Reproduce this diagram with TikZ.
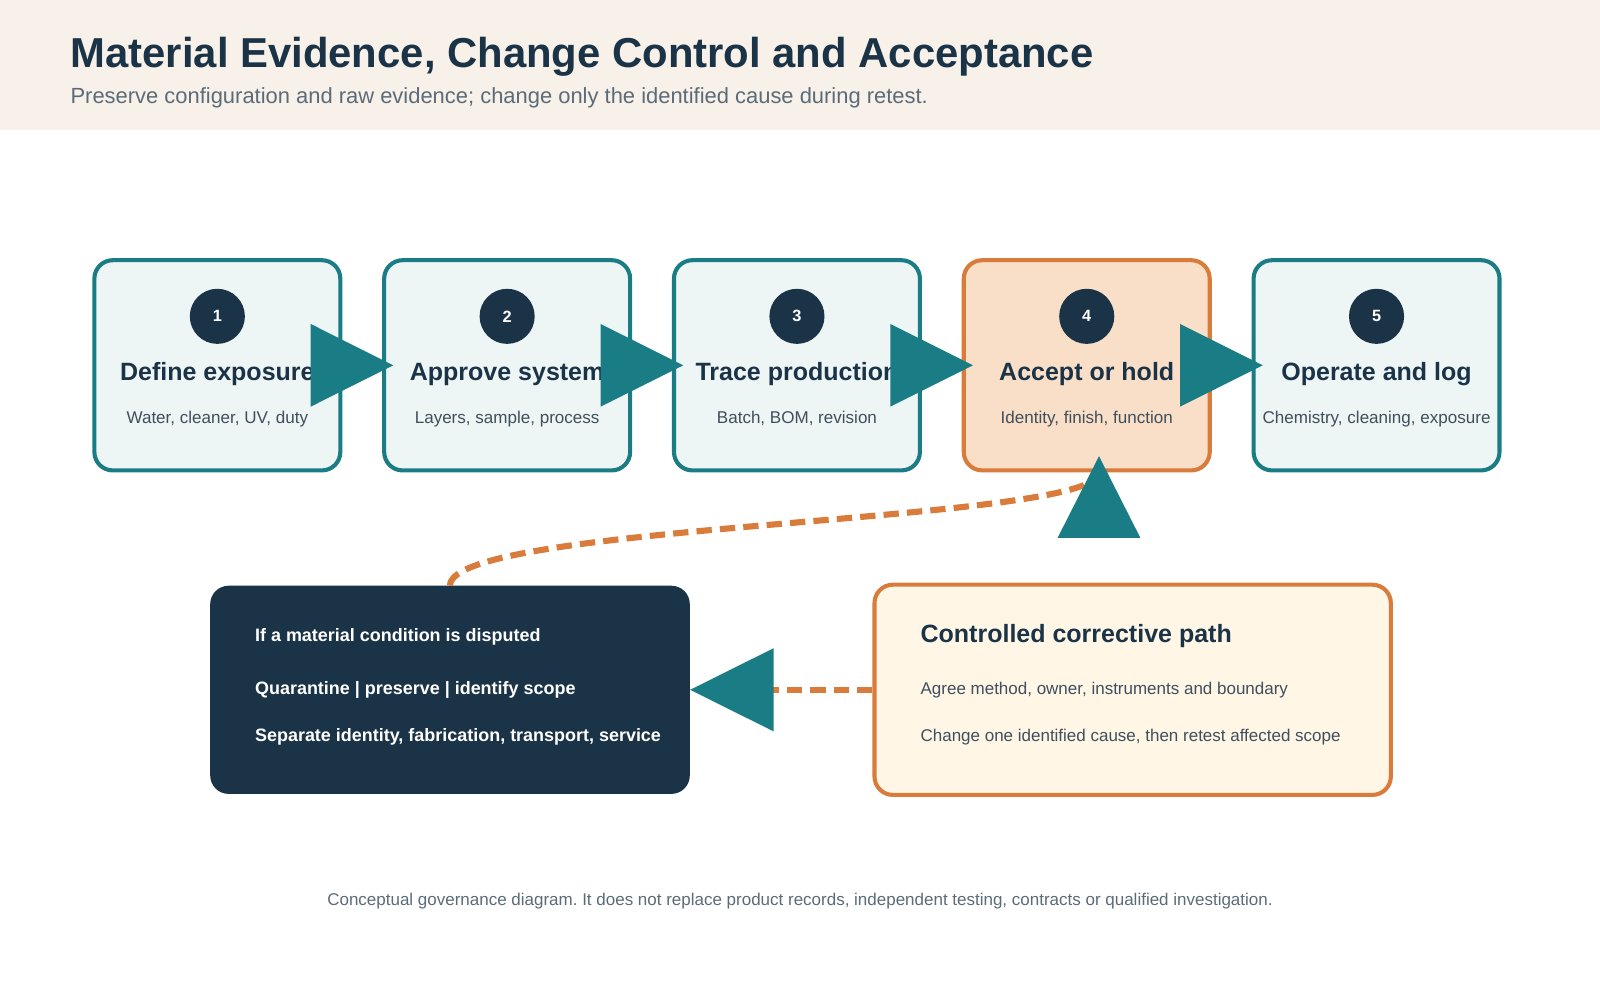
\documentclass[tikz,border=0pt]{standalone}
\usepackage{fontspec}
\setmainfont{Liberation Sans}
\usepackage{xcolor}
\usetikzlibrary{arrows.meta}
\usetikzlibrary{positioning}
\frenchspacing
\definecolor{navy}{HTML}{1B3347}
\definecolor{tealc}{HTML}{1A7D86}
\definecolor{orangec}{HTML}{D97B3A}
\definecolor{headbg}{HTML}{F7F1EA}
\definecolor{tealbg}{HTML}{EEF5F5}
\definecolor{orangebg}{HTML}{F9DFC7}
\definecolor{creambg}{HTML}{FFF6E6}
\definecolor{mutedtext}{HTML}{5B6B78}
\definecolor{bodytext}{HTML}{3F4F5D}
\tikzset{
    stepbox/.style = {draw=tealc, fill=tealbg, line width=4pt,
        rounded corners=18pt, inner sep=0pt,
        minimum width=241pt,
        minimum height=206pt},
    holdbox/.style = {stepbox, draw=orangec, fill=orangebg},
    alertbox/.style = {fill=navy, rounded corners=18pt, inner sep=0pt,
        minimum width=470pt, minimum height=204pt},
    fixbox/.style = {draw=orangec, fill=creambg, line width=4pt,
        rounded corners=18pt, inner sep=0pt,
        minimum width=506pt, minimum height=206pt},
    badge/.style = {circle, fill=navy, text=white, inner sep=0pt,
        minimum size=54pt, font=\fontsize{16}{16}\selectfont\bfseries},
    pagetitle/.style = {anchor=base west, inner sep=0pt, text=navy,
        font=\fontsize{41}{44}\selectfont\bfseries},
    pagesub/.style = {anchor=base west, inner sep=0pt, text=mutedtext,
        font=\fontsize{21.5}{24}\selectfont},
    steptitle/.style = {anchor=base, inner sep=0pt, text=navy,
        font=\fontsize{24.5}{28}\selectfont\bfseries},
    stepnote/.style = {anchor=base, inner sep=0pt, text=bodytext,
        font=\fontsize{16.7}{20}\selectfont},
    alertline/.style = {anchor=base west, inner sep=0pt, text=white,
        font=\fontsize{17.6}{20}\selectfont\bfseries},
    fixtitle/.style = {anchor=base west, inner sep=0pt, text=navy,
        font=\fontsize{24.5}{28}\selectfont\bfseries},
    fixline/.style = {anchor=base west, inner sep=0pt, text=bodytext,
        font=\fontsize{16.65}{20}\selectfont},
    footnote/.style = {anchor=base, inner sep=0pt, text=mutedtext,
        font=\fontsize{16.65}{20}\selectfont},
    flow/.style = {draw=tealc, line width=4pt,
        -{Triangle[length=81pt,width=80pt]}, shorten >=-11pt},
    dashlink/.style = {draw=orangec, line width=6pt,
        dash pattern=on 15pt off 8pt},
    backtip/.style = {draw=tealc, line width=4pt,
        -{Triangle[length=80pt,width=80pt]}}
}
\begin{document}
\begin{tikzpicture}[x=1pt, y=-1pt, node distance=284pt]
    \useasboundingbox (0,0) rectangle (1568,980);
    \fill[headbg] (0,0) rectangle (1568,127);
    \node[pagetitle] (title) at (69,66) {Material Evidence, Change Control and Acceptance};
    \node[pagesub] (subtitle) at (69,101) {Preserve configuration and raw evidence; change only the identified cause during retest.};

    \node[stepbox] (s1) at (213,358) {};
    \node[stepbox, right of=s1] (s2) {};
    \node[stepbox, right of=s2] (s3) {};
    \node[holdbox, right of=s3] (s4) {};
    \node[stepbox, right of=s4] (s5) {};

    \node[badge] (b1) at ([yshift=48pt]s1.center) {1};
    \node[badge] (b2) at ([yshift=48pt]s2.center) {2};
    \node[badge] (b3) at ([yshift=48pt]s3.center) {3};
    \node[badge] (b4) at ([yshift=48pt]s4.center) {4};
    \node[badge] (b5) at ([yshift=48pt]s5.center) {5};

    \node[steptitle] (t1) at ([yshift=-14.5pt]s1.center) {Define exposure};
    \node[steptitle] (t2) at ([yshift=-14.5pt]s2.center) {Approve system};
    \node[steptitle] (t3) at ([yshift=-14.5pt]s3.center) {Trace production};
    \node[steptitle] (t4) at ([yshift=-14.5pt]s4.center) {Accept or hold};
    \node[steptitle] (t5) at ([yshift=-14.5pt]s5.center) {Operate and log};

    \node[stepnote] (d1) at ([yshift=-57pt]s1.center) {Water, cleaner, UV, duty};
    \node[stepnote] (d2) at ([yshift=-57pt]s2.center) {Layers, sample, process};
    \node[stepnote] (d3) at ([yshift=-57pt]s3.center) {Batch, BOM, revision};
    \node[stepnote] (d4) at ([yshift=-57pt]s4.center) {Identity, finish, function};
    \node[stepnote] (d5) at ([yshift=-57pt]s5.center) {Chemistry, cleaning, exposure};

    \draw [flow] (s1) -- (s2);
    \draw [flow] (s2) -- (s3);
    \draw [flow] (s3) -- (s4);
    \draw [flow] (s4) -- (s5);

    \node[alertbox] (dk) at (441,676) {};
    \node[alertline] (a1) at ([xshift=44pt,yshift=47pt]dk.west) {If a material condition is disputed};
    \node[alertline] (a2) at ([xshift=44pt,yshift=-5pt]dk.west) {Quarantine | preserve | identify scope};
    \node[alertline] (a3) at ([xshift=44pt,yshift=-51pt]dk.west) {Separate identity, fabrication, transport, service};

    \node[fixbox] (cp) at (1110,676) {};
    \node[fixtitle] (f0) at ([xshift=47pt,yshift=46.5pt]cp.west) {Controlled corrective path};
    \node[fixline] (f1) at ([xshift=47pt,yshift=-5pt]cp.west) {Agree method, owner, instruments and boundary};
    \node[fixline] (f2) at ([xshift=47pt,yshift=-51pt]cp.west) {Change one identified cause, then retest affected scope};

    \draw [dashlink, -{Triangle[length=82pt,width=80pt,color=tealc]}] (cp) -- (dk);
    \coordinate (hold) at ([xshift=12pt]s4.south);
    \draw [dashlink] (dk.north) .. controls +(0,-62) and +(0,50) .. (hold);
    \draw [backtip] (hold) -- ++(0,-16);

    \node[footnote] (foot) at (784,887) {Conceptual governance diagram. It does not replace product records, independent testing, contracts or qualified investigation.};
\end{tikzpicture}
\end{document}
